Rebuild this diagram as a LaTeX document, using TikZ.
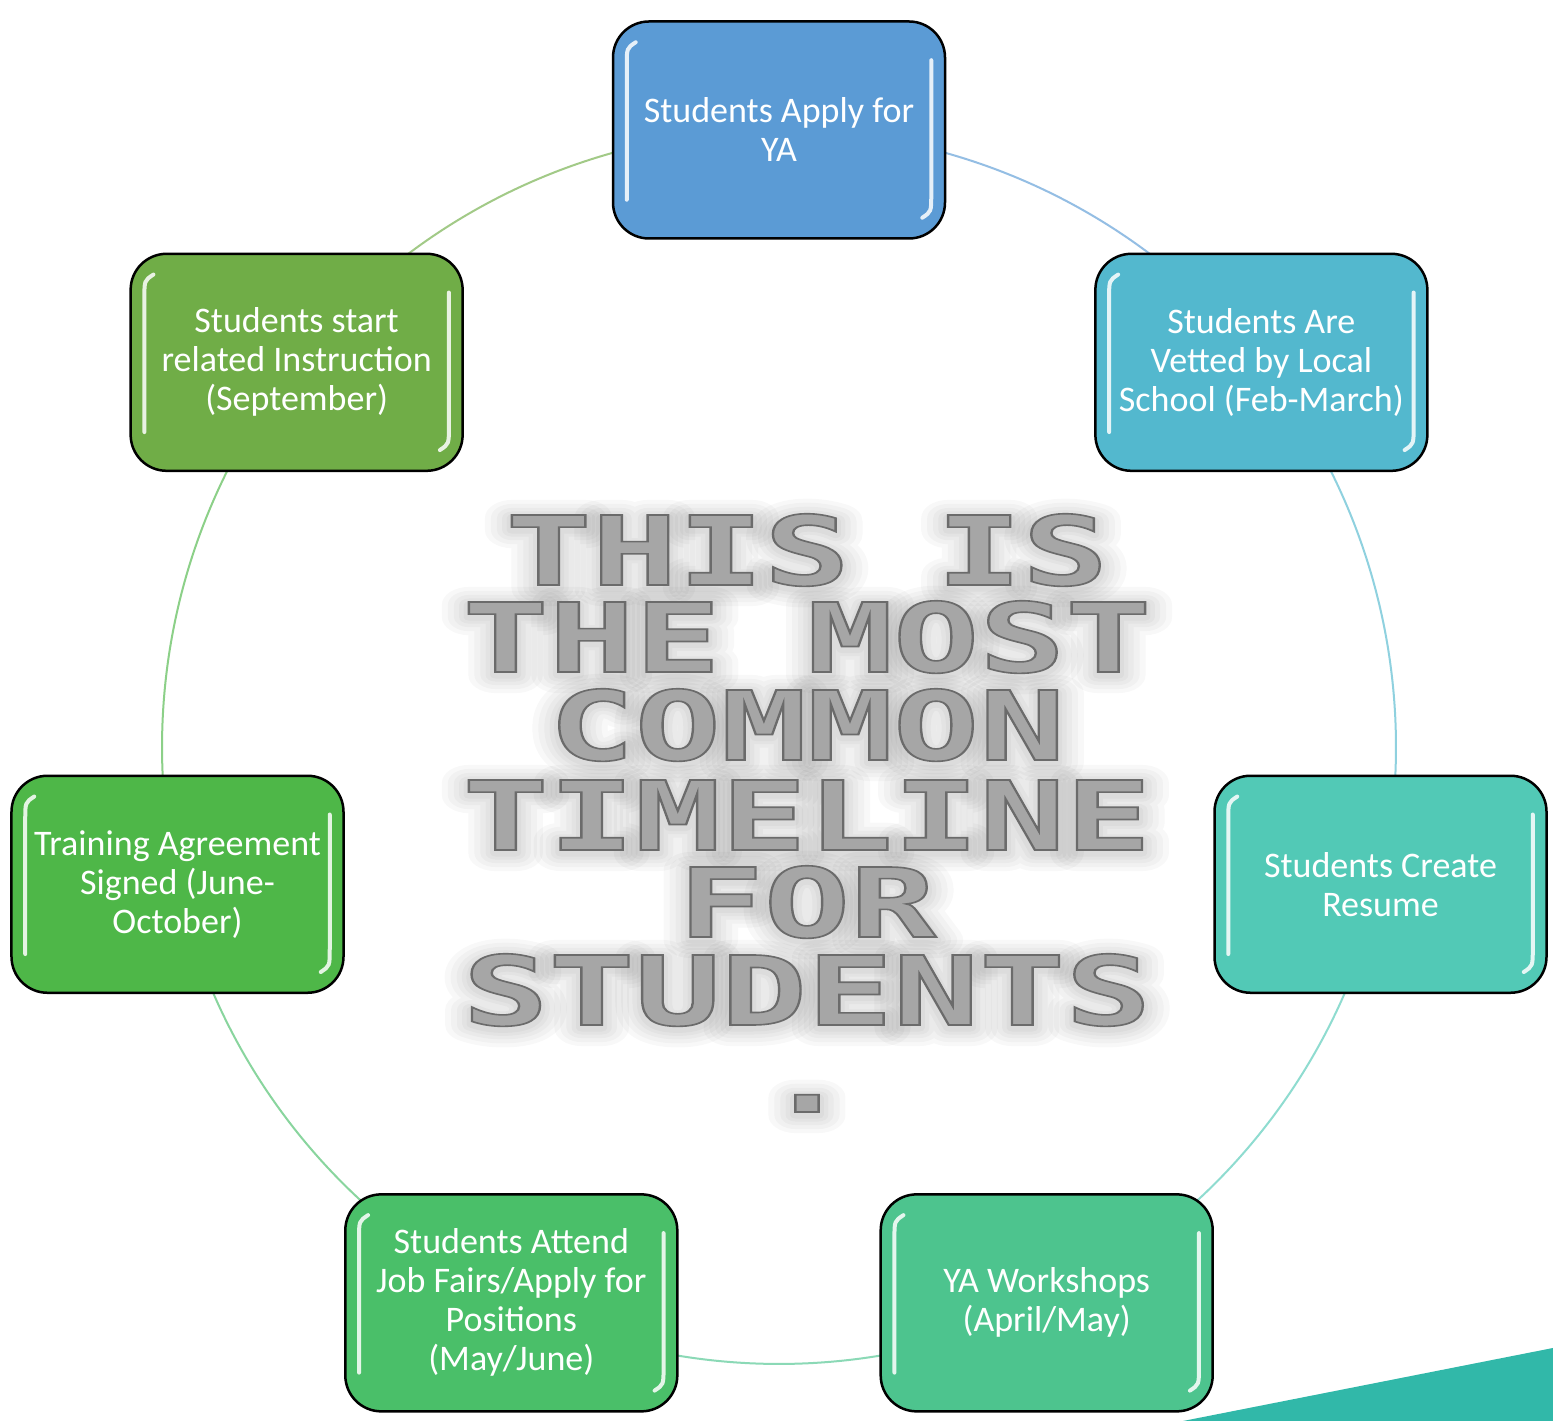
\documentclass[tikz,border=0pt]{standalone}
\usepackage{fontspec}
\setmainfont{Carlito}
\newfontfamily\bigfont{DejaVu Sans Mono}
\usetikzlibrary{backgrounds,calc}
\definecolor{c0}{HTML}{5B9BD5}
\definecolor{c1}{HTML}{53B8CE}
\definecolor{c2}{HTML}{52C9B6}
\definecolor{c3}{HTML}{4DC48E}
\definecolor{c4}{HTML}{4ABF69}
\definecolor{c5}{HTML}{4EB748}
\definecolor{c6}{HTML}{70AD47}
\definecolor{bigfill}{HTML}{A6A6A6}
\definecolor{cornerteal}{HTML}{31B8A9}
\newcommand\outlined[1]{\special{pdf:literal direct 2 Tr 1.6 w 0.42 0.42 0.42 RG}#1\special{pdf:literal direct 0 Tr 0.4 w}}
\newcommand\haloed[2]{\special{pdf:literal direct 1 Tr #1 w 1 j 0 0 0 RG}#2\special{pdf:literal direct 0 Tr 0.4 w 0 j}}
\tikzset{
  stepbox/.style={draw=black, line width=2.5pt, rounded corners=36pt,
    minimum width=332pt, minimum height=217pt, text=white, align=center,
    font=\fontsize{36}{39}\selectfont, inner sep=0pt},
  gloss/.style={white, line width=4pt, opacity=0.85, line cap=round},
  ring/.style={line width=2pt},
  bigtext/.style={font=\bigfont\bfseries\fontsize{96}{96}\selectfont,
    xscale=1.49, anchor=base, inner sep=0pt},
}
\begin{document}
\begin{tikzpicture}[x=1pt,y=1pt]
\useasboundingbox (0,0) rectangle (1553,1421);
\coordinate (C) at (779,674);
% boxes
\foreach \i/\t in {0/{Students Apply for\\YA},
                   1/{Students Are\\Vetted by Local\\School (Feb-March)},
                   2/{Students Create\\Resume},
                   3/{YA Workshops\\(April/May)},
                   4/{Students Attend\\Job Fairs/Apply for\\Positions\\(May/June)},
                   5/{Training Agreement\\Signed (June-\\October)},
                   6/{Students start\\related Instruction\\(September)}}{
  \node[stepbox, fill=c\i] (n\i) at ($(C)+({90-\i*360/7}:617)$) {\t};
}
% gloss highlights
\foreach \i in {0,...,6}{
  \draw[gloss] ([shift={(24,-22)}]n\i.north west) .. controls ([shift={(15,-28)}]n\i.north west) .. ([shift={(15,-45)}]n\i.north west) -- ([shift={(15,40)}]n\i.south west);
  \draw[gloss] ([shift={(-15,-40)}]n\i.north east) -- ([shift={(-15,45)}]n\i.south east) .. controls ([shift={(-15,28)}]n\i.south east) .. ([shift={(-24,22)}]n\i.south east);
}
% ring connectors
\begin{scope}[on background layer]
  \fill[white] (0,0) rectangle (1553,1421);
  \foreach \i in {0,...,6}{
    \draw[ring, c\i!65!white] (n\i.center) arc[start angle={90-\i*360/7}, end angle={90-(\i+1)*360/7}, radius=617pt];
  }
\end{scope}
% soft halo round the centre text
\foreach \k/\yy/\tt in {1/836/THIS IS, 2/749/THE MOST, 3/661/COMMON, 4/571/TIMELINE, 5/484/FOR, 6/396/STUDENTS, 7/309/.}{
  \foreach \w in {36,28,20,13,7}{
    \node[bigtext, text=black, opacity=0.028, name=h\k-\w] at (807,\yy-3) {\haloed{\w}{\tt}};
  }
}
% centre text
\foreach \k/\yy/\tt in {1/836/THIS IS, 2/749/THE MOST, 3/661/COMMON, 4/571/TIMELINE, 5/484/FOR, 6/396/STUDENTS, 7/309/.}{
  \node[bigtext, text=bigfill, name=t\k] at (807,\yy) {\outlined{\tt}};
}
% corner decoration
\fill[cornerteal] (1183,0) -- (1553,73) -- (1553,0) -- cycle;
\end{tikzpicture}
\end{document}
